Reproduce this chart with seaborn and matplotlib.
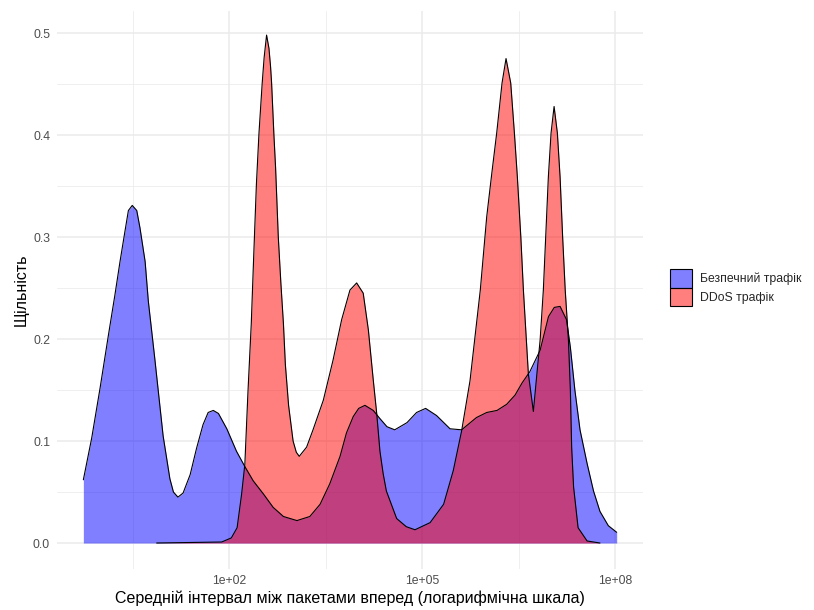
import numpy as np
import pandas as pd
import matplotlib
matplotlib.use('Agg')
import matplotlib.pyplot as plt
import seaborn as sns
from matplotlib.patches import Patch

#-----------------------------------------------------------------------
# дані: log10(інтервал) та щільність
#-----------------------------------------------------------------------
benign_log = [-0.27, -0.14, -0.01, 0.12, 0.22, 0.30, 0.375, 0.43, 0.49, 0.56,
              0.61, 0.69, 0.74, 0.84, 0.97, 1.075, 1.13, 1.20, 1.28, 1.39,
              1.49, 1.59, 1.67, 1.75, 1.83, 1.96, 2.11, 2.24, 2.37, 2.53,
              2.68, 2.84, 3.05, 3.25, 3.41, 3.56, 3.72, 3.82, 3.925, 4.01,
              4.107, 4.236, 4.34, 4.45, 4.57, 4.76, 4.91, 5.05, 5.22, 5.43,
              5.61, 5.84, 6.00, 6.16, 6.31, 6.44, 6.55, 6.67, 6.83, 6.96,
              7.05, 7.14, 7.24, 7.30, 7.37, 7.45, 7.56, 7.66, 7.76, 7.89,
              8.02]
benign_dens = [0.062, 0.103, 0.152, 0.204, 0.243, 0.276, 0.305, 0.326, 0.331, 0.326,
               0.309, 0.276, 0.237, 0.181, 0.105, 0.063, 0.050, 0.045, 0.049, 0.067,
               0.093, 0.116, 0.128, 0.130, 0.127, 0.112, 0.090, 0.075, 0.061, 0.048,
               0.035, 0.026, 0.022, 0.026, 0.038, 0.058, 0.085, 0.108, 0.124, 0.132,
               0.135, 0.130, 0.122, 0.114, 0.111, 0.118, 0.128, 0.132, 0.125, 0.112,
               0.111, 0.123, 0.128, 0.130, 0.136, 0.145, 0.157, 0.168, 0.189, 0.222,
               0.231, 0.232, 0.219, 0.192, 0.150, 0.111, 0.078, 0.051, 0.031, 0.017,
               0.0105]

ddos_log = [0.87, 1.88, 2.03, 2.12, 2.19, 2.24, 2.29, 2.34, 2.38, 2.42,
            2.46, 2.51, 2.54, 2.578, 2.615, 2.64, 2.656, 2.692, 2.718, 2.76,
            2.80, 2.84, 2.87, 2.92, 2.99, 3.04, 3.086, 3.20, 3.30, 3.46,
            3.61, 3.745, 3.874, 3.978, 4.08, 4.16, 4.236, 4.29, 4.34, 4.39,
            4.44, 4.60, 4.75, 4.885, 5.12, 5.33, 5.48, 5.61, 5.74, 5.90,
            6.00, 6.078, 6.155, 6.238, 6.30, 6.373, 6.43, 6.476, 6.53, 6.57,
            6.647, 6.725, 6.78, 6.83, 6.88, 6.958, 7.00, 7.047, 7.098, 7.14,
            7.18, 7.22, 7.27, 7.30, 7.32, 7.35, 7.42, 7.56, 7.76]
ddos_dens = [0.0, 0.001, 0.005, 0.015, 0.048, 0.077, 0.150, 0.215, 0.285, 0.352,
             0.402, 0.451, 0.476, 0.498, 0.485, 0.467, 0.451, 0.400, 0.368, 0.300,
             0.255, 0.215, 0.175, 0.135, 0.100, 0.089, 0.085, 0.094, 0.111, 0.140,
             0.179, 0.219, 0.248, 0.255, 0.245, 0.209, 0.160, 0.127, 0.090, 0.068,
             0.051, 0.024, 0.016, 0.013, 0.020, 0.038, 0.071, 0.110, 0.159, 0.248,
             0.320, 0.362, 0.402, 0.451, 0.475, 0.451, 0.402, 0.359, 0.300, 0.248,
             0.166, 0.129, 0.166, 0.199, 0.248, 0.359, 0.402, 0.428, 0.402, 0.359,
             0.300, 0.248, 0.199, 0.150, 0.094, 0.055, 0.015, 0.002, 0.0]

group_labels = ['Безпечний трафік', 'DDoS трафік']
group_colors = ['blue', 'red']
x_ticks = [1e2, 1e5, 1e8]
x_tick_labels = ['1e+02', '1e+05', '1e+08']
y_ticks = [0.0, 0.1, 0.2, 0.3, 0.4, 0.5]

df = pd.concat([
    pd.DataFrame({'x': 10 ** np.array(benign_log), 'density': benign_dens, 'group': group_labels[0]}),
    pd.DataFrame({'x': 10 ** np.array(ddos_log), 'density': ddos_dens, 'group': group_labels[1]}),
])

sns.set_theme(style='white')
plt.rcParams['font.family'] = ['Liberation Sans', 'DejaVu Sans']

fig = plt.figure(figsize=(8.14, 6.10), dpi=100)
ax = fig.add_axes([0.070, 0.068, 0.720, 0.9146])

# заливка + контур
for lab, col in zip(group_labels, group_colors):
    sub = df[df['group'] == lab]
    ax.fill_between(sub['x'], sub['density'], color=col, alpha=0.5, linewidth=0, zorder=2)
    sns.lineplot(data=sub, x='x', y='density', color='black', linewidth=0.8,
                 sort=False, estimator=None, ax=ax, zorder=3)

ax.set_xscale('log')
ax.set_xlim(10 ** -0.68, 10 ** 8.43)
ax.set_ylim(-0.025, 0.522)

ax.set_xticks(x_ticks, labels=x_tick_labels)
ax.set_xticks([10 ** 0.5, 10 ** 3.5, 10 ** 6.5], minor=True)
ax.set_yticks(y_ticks, labels=[f'{v:.1f}' for v in y_ticks])
ax.set_yticks([0.05, 0.15, 0.25, 0.35, 0.45], minor=True)
ax.grid(which='major', color='#EBEBEB', linewidth=1.1, zorder=0)
ax.grid(which='minor', color='#EBEBEB', linewidth=0.55, zorder=0)
ax.set_axisbelow(True)
ax.tick_params(which='both', length=0, pad=5, labelsize=8.8, labelcolor='#4D4D4D')
for s in ax.spines.values():
    s.set_visible(False)

ax.set_xlabel('Середній інтервал між пакетами вперед (логарифмічна шкала)', fontsize=11.5, color='black', labelpad=2)
ax.set_ylabel('Щільність', fontsize=11.5, color='black', labelpad=3)

handles = [Patch(facecolor=(0, 0, 1, 0.5), edgecolor='black', linewidth=0.8),
           Patch(facecolor=(1, 0, 0, 0.5), edgecolor='black', linewidth=0.8)]
fig.legend(handles, group_labels, loc='center left', bbox_to_anchor=(670 / 814, 1 - 287.5 / 610),
           bbox_transform=fig.transFigure, frameon=False, fontsize=8.8,
           handlelength=1.8, handleheight=2.0, labelspacing=0.0, handletextpad=0.65,
           borderpad=0, borderaxespad=0)

plt.savefig('out.png', dpi=100)
